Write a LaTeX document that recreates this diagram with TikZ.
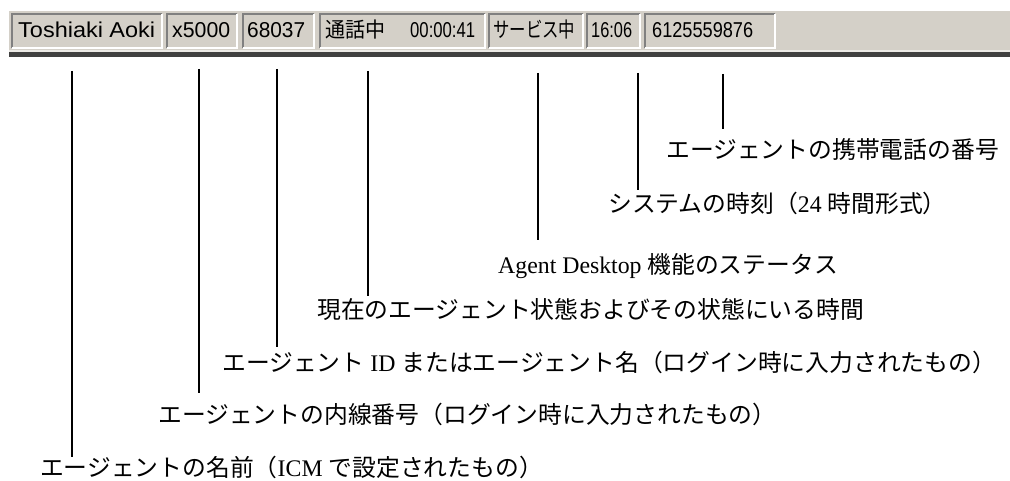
\documentclass[tikz,border=0pt]{standalone}
\usepackage{fontspec}
\setmainfont{Liberation Serif}
\newfontfamily\jp{Noto Sans CJK JP}
\newfontfamily\barfont{Liberation Sans}
\newcommand{\bw}[2]{\resizebox{#1pt}{\height}{#2}}
\definecolor{bargray}{HTML}{D4D0C8}
\definecolor{shadowgray}{HTML}{808080}
\definecolor{barlight}{HTML}{ECEAE6}
\definecolor{bardark}{HTML}{404040}
\tikzset{
  lbl/.style={anchor=base west, inner sep=0pt, font=\fontsize{23.8}{28}\selectfont},
  bartxt/.style={anchor=base west, inner sep=0pt, font=\barfont\fontsize{21.5}{24}\selectfont},
  barjptxt/.style={anchor=base west, inner sep=0pt, font=\jp\fontsize{21}{24}\selectfont},
  lead/.style={line width=2pt, black},
  sunk/.style={line width=1.6pt, shadowgray},
  lit/.style={line width=1.6pt, white},
}
\newcommand{\panel}[2]{%
  \draw[sunk] (#1,48) -- (#1,14) -- (#2,14);
  \draw[lit] (#2,14) -- (#2,48) -- (#1,48);}
\begin{document}
\begin{tikzpicture}[x=1pt,y=-1pt]
\useasboundingbox (0,0) rectangle (1010,481);
% status bar
\fill[bargray] (9,11) rectangle (1010,50);
\fill[barlight] (9,50) rectangle (1010,52.5);
\fill[bardark] (9,52.5) rectangle (1010,57);
\panel{12}{162}
\panel{167}{237}
\panel{243}{314}
\panel{320}{485}
\panel{489}{583}
\panel{587}{640}
\panel{645}{775}
\node[bartxt] (s1) at (18,37.5) {\bw{137}{Toshiaki Aoki}};
\node[bartxt] (s2) at (172,37.5) {\bw{58}{x5000}};
\node[bartxt] (s3) at (247,37.5) {\bw{58}{68037}};
\node[barjptxt] (s4a) at (325,38) {\bw{60}{通話中}};
\node[bartxt] (s4b) at (410,37.5) {\bw{65}{00:00:41}};
\node[barjptxt] (s5) at (493,38) {\bw{82}{サービス中}};
\node[bartxt] (s6) at (591,37.5) {\bw{41}{16:06}};
\node[bartxt] (s7) at (652,37.5) {\bw{101}{6125559876}};
% labels
\node[lbl] (l7) at (666,159) {{\jp エージェントの携帯電話の番号}};
\node[lbl] (l6) at (608,213) {{\jp システムの時刻（}24 {\jp 時間形式）}};
\node[lbl] (l5) at (498,273) {Agent Desktop {\jp 機能のステータス}};
\node[lbl] (l4) at (317,319) {{\jp 現在のエージェント状態およびその状態にいる時間}};
\node[lbl] (l3) at (222,371) {{\jp エージェント} ID {\jp またはエージェント名（ログイン時に入力されたもの）}};
\node[lbl] (l2) at (158,423) {{\jp エージェントの内線番号（ログイン時に入力されたもの）}};
\node[lbl] (l1) at (40,476) {{\jp エージェントの名前（}ICM {\jp で設定されたもの）}};
% leader lines
\coordinate (t1) at (72,71);   \coordinate (b1) at (72,457);
\coordinate (t2) at (199,69);  \coordinate (b2) at (199,393);
\coordinate (t3) at (277,69);  \coordinate (b3) at (277,347);
\coordinate (t4) at (368,71);  \coordinate (b4) at (368,296);
\coordinate (t5) at (538,73);  \coordinate (b5) at (538,240);
\coordinate (t6) at (638,73);  \coordinate (b6) at (638,190);
\coordinate (t7) at (723,74);  \coordinate (b7) at (723,129);
\foreach \i in {1,...,7} {\draw[lead] (t\i) -- (b\i);}
\end{tikzpicture}
\end{document}
